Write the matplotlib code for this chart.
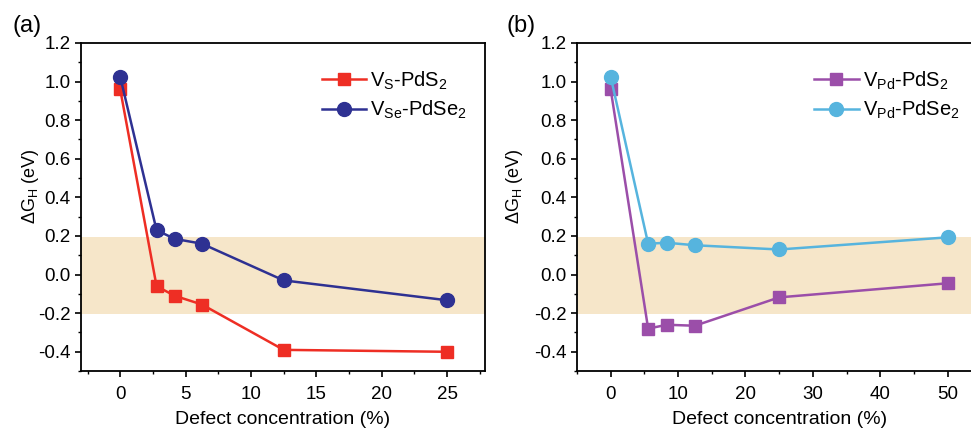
from matplotlib import pyplot as plt
from matplotlib.ticker import MultipleLocator

plt.rcParams['font.family'] = ['Liberation Sans', 'DejaVu Sans']
plt.rcParams['mathtext.fontset'] = 'custom'
plt.rcParams['mathtext.rm'] = 'Liberation Sans'
plt.rcParams['mathtext.it'] = 'Liberation Sans'

# panel (a)
xa = [0, 2.78, 4.17, 6.25, 12.5, 25]
vs_pds2 = [0.96, -0.06, -0.11, -0.155, -0.39, -0.40]
vse_pdse2 = [1.025, 0.23, 0.185, 0.16, -0.03, -0.133]

# panel (b)
xb = [0, 5.56, 8.33, 12.5, 25, 50]
vpd_pds2 = [0.96, -0.28, -0.26, -0.265, -0.118, -0.045]
vpd_pdse2 = [1.025, 0.16, 0.165, 0.152, 0.13, 0.193]

band = (-0.205, 0.195)

fig = plt.figure(figsize=(9.71, 4.32), dpi=100)
ax1 = fig.add_axes([0.0834, 0.141, 0.4161, 0.7595])
ax2 = fig.add_axes([0.5942, 0.141, 0.4165, 0.7595])


def style(ax, xlim, xmajor, xminor, ylab_x):
    ax.axhspan(band[0], band[1], color='#f6e6c9', lw=0, zorder=0)
    ax.set_xlim(*xlim)
    ax.set_ylim(-0.5, 1.2)
    ax.xaxis.set_major_locator(MultipleLocator(xmajor))
    ax.xaxis.set_minor_locator(MultipleLocator(xminor))
    ax.yaxis.set_minor_locator(MultipleLocator(0.1))
    ax.set_yticks([1.2, 1.0, 0.8, 0.6, 0.4, 0.2, 0.0, -0.2, -0.4])
    ax.set_yticklabels(['1.2', '1.0', '0.8', '0.6', '0.4', '0.2', '0.0', '-0.2', '-0.4'])
    ax.tick_params(which='major', direction='out', length=4.5, width=1.2,
                   labelsize=13.5, pad=3)
    ax.tick_params(axis='x', which='major', pad=6)
    ax.tick_params(which='minor', direction='out', length=2.5, width=1.0)
    for s in ax.spines.values():
        s.set_linewidth(1.3)
    ax.set_xlabel('Defect concentration (%)', fontsize=14, labelpad=6)
    ax.set_ylabel(r'$\Delta$G$_\mathregular{H}$ (eV)', fontsize=13)
    ax.yaxis.set_label_coords(ylab_x, 0.565)


style(ax1, (-3, 27.9), 5, 2.5, -0.10)
ax1.plot(xa, vs_pds2, color='#ee2e24', lw=1.8, marker='s', ms=8.5,
         label=r'V$_\mathregular{S}$-PdS$_\mathregular{2}$')
ax1.plot(xa, vse_pdse2, color='#2e3192', lw=1.8, marker='o', ms=10,
         label=r'V$_\mathregular{Se}$-PdSe$_\mathregular{2}$')
ax1.legend(loc='upper right', frameon=False, fontsize=14.5, handlelength=2.2,
           handletextpad=0.2, labelspacing=0.35, bbox_to_anchor=(1.0, 0.975))

style(ax2, (-5, 55), 10, 5, -0.128)
ax2.plot(xb, vpd_pds2, color='#9b4ea9', lw=1.8, marker='s', ms=8.5,
         label=r'V$_\mathregular{Pd}$-PdS$_\mathregular{2}$')
ax2.plot(xb, vpd_pdse2, color='#56b4de', lw=1.8, marker='o', ms=10,
         label=r'V$_\mathregular{Pd}$-PdSe$_\mathregular{2}$')
ax2.legend(loc='upper right', frameon=False, fontsize=14.5, handlelength=2.2,
           handletextpad=0.2, labelspacing=0.35, bbox_to_anchor=(0.99, 0.975))

fig.text(0.013, 0.925, '(a)', fontsize=17)
fig.text(0.522, 0.925, '(b)', fontsize=17)

fig.savefig('out.png', dpi=100)
